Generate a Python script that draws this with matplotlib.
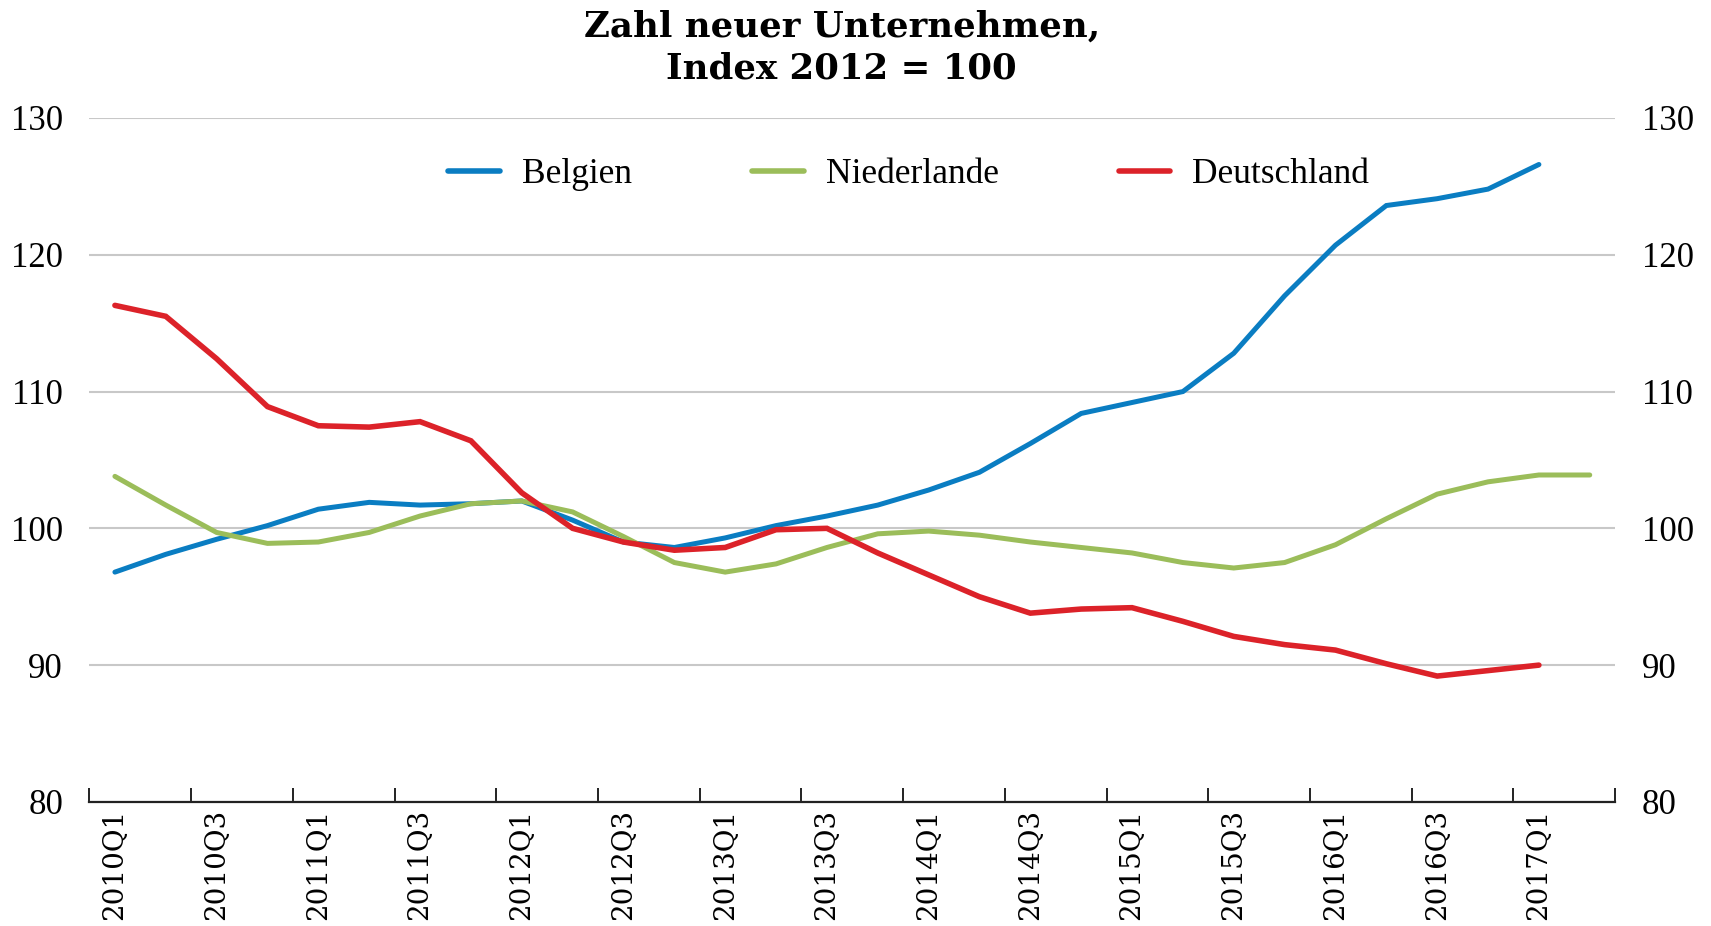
import matplotlib
matplotlib.use("Agg")
import matplotlib.pyplot as plt
import numpy as np

quarters = [f"{y}Q{q}" for y in range(2010, 2018) for q in range(1, 5)][:30]

belgien = [96.8, 98.1, 99.2, 100.2, 101.4, 101.9, 101.7, 101.8, 102.0, 100.6,
           99.0, 98.6, 99.3, 100.2, 100.9, 101.7, 102.8, 104.1, 106.2, 108.4,
           109.2, 110.0, 112.8, 117.0, 120.7, 123.6, 124.1, 124.8, 126.6]
niederlande = [103.8, 101.7, 99.7, 98.9, 99.0, 99.7, 100.9, 101.8, 102.0, 101.2,
               99.4, 97.5, 96.8, 97.4, 98.6, 99.6, 99.8, 99.5, 99.0, 98.6,
               98.2, 97.5, 97.1, 97.5, 98.8, 100.7, 102.5, 103.4, 103.9, 103.9]
deutschland = [116.3, 115.5, 112.4, 108.9, 107.5, 107.4, 107.8, 106.4, 102.6, 100.0,
               99.0, 98.4, 98.6, 99.9, 100.0, 98.2, 96.6, 95.0, 93.8, 94.1,
               94.2, 93.2, 92.1, 91.5, 91.1, 90.1, 89.2, 89.6, 90.0]

series_names = ["Belgien", "Niederlande", "Deutschland"]
colors = ["#0a7dc2", "#9bbd5a", "#dc2229"]
yticks = [80, 90, 100, 110, 120, 130]
title = "Zahl neuer Unternehmen,\nIndex 2012 = 100"

fig = plt.figure(figsize=(17.11, 9.26), dpi=100)
ax = fig.add_axes([0.0523, 0.134, 0.8917, 0.7386])

for vals, name, c, lw in zip([belgien, niederlande, deutschland], series_names, colors, [3.6, 3.6, 4.0]):
    ax.plot(np.arange(len(vals)), vals, color=c, lw=lw, label=name,
            solid_capstyle="round", solid_joinstyle="miter")

ax.set_xlim(-0.5, len(quarters) - 0.5)
ax.set_ylim(80, 130)
ax.set_yticks(yticks)
ax.yaxis.grid(True, color="#c8c8c8", lw=1.5)
ax.set_axisbelow(True)

for s in ["top", "left", "right"]:
    ax.spines[s].set_visible(False)
ax.spines["bottom"].set_linewidth(1.6)
ax.spines["bottom"].set_color("#222222")

major = np.arange(0, len(quarters), 2)
ax.set_xticks(major)
ax.set_xticklabels([quarters[i] for i in major], rotation=90, family="DejaVu Serif",
                   fontsize=20, va="top")
ax.set_xticks(np.arange(-0.5, len(quarters), 2), minor=True)
ax.tick_params(axis="x", which="major", length=0, pad=5)
ax.tick_params(axis="x", which="minor", direction="in", length=10, width=1.4, color="#222222")
ax.tick_params(axis="y", length=0, labelsize=25, pad=19, labelright=True, labelleft=True)
for lab in ax.get_yticklabels():
    lab.set_family("Liberation Serif")

leg = ax.legend(ncol=3, loc="center", bbox_to_anchor=(0.537, 0.917), frameon=False,
                prop={"family": "Liberation Serif", "size": 25.5}, handlelength=1.45,
                handletextpad=0.62, columnspacing=3.4)
for h in leg.get_lines():
    h.set_linewidth(4)

fig.text(0.492, 0.99, title, ha="center", va="top", family="DejaVu Serif",
         weight="bold", fontsize=25.6, linespacing=1.32)

fig.savefig("out.png", dpi=100)
